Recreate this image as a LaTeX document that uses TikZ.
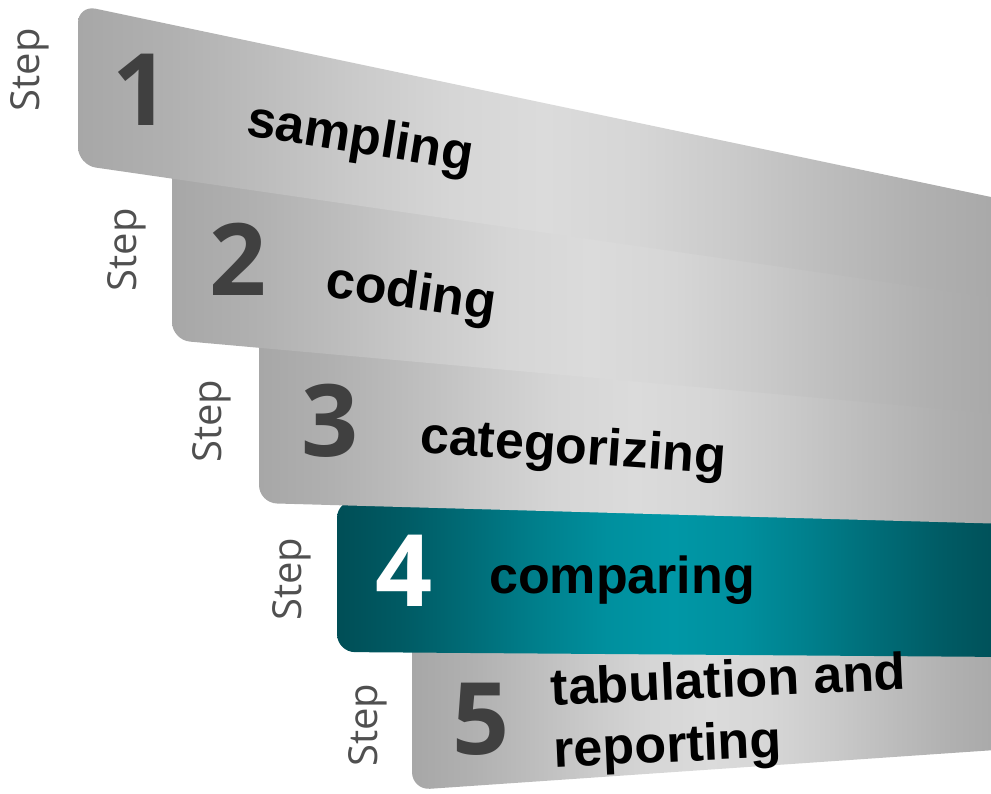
\documentclass[tikz,border=0pt]{standalone}
\usepackage{fontspec}
\setmainfont{Liberation Sans}
\newfontfamily\stepfont{Open Sans}
\definecolor{panelgray}{HTML}{A7A7A7}
\definecolor{panellight}{HTML}{DBDBDB}
\definecolor{tealdark}{HTML}{004E56}
\definecolor{teallight}{HTML}{0097A6}
\definecolor{numgray}{HTML}{404040}
\definecolor{stepgray}{HTML}{505050}
% soft light band across a panel: #1 name, #2 edge colour, #3 centre colour
\newcommand\declareband[3]{%
 \pgfdeclarehorizontalshading{#1}{100bp}{color(0bp)=(#2); color(25bp)=(#2); color(30bp)=(#3!18!#2);
  color(35bp)=(#3!42!#2); color(40bp)=(#3!68!#2); color(45bp)=(#3!90!#2); color(50bp)=(#3);
  color(55bp)=(#3!90!#2); color(60bp)=(#3!68!#2); color(65bp)=(#3!42!#2); color(70bp)=(#3!18!#2);
  color(75bp)=(#2); color(100bp)=(#2)}}
\declareband{grayband}{panelgray}{panellight}
\declareband{tealband}{tealdark}{teallight}
\tikzset{
 steptag/.style={rotate=90,text=stepgray,font=\stepfont\fontsize{40}{40}\selectfont,inner sep=0},
 stepnum/.style={font=\stepfont\bfseries\fontsize{100}{100}\selectfont,inner sep=0},
 steplabel/.style={font=\bfseries\fontsize{52}{62}\selectfont,inner sep=0,align=left}
}
\begin{document}
\begin{tikzpicture}[x=1pt,y=-1pt]
 \useasboundingbox (0,0) rectangle (991,793);
 \clip (0,0) rectangle (991,793);
 % slanted panels, lowest one first
 \foreach \xl/\yt/\yb/\rt/\rb/\sh in {412/630/790/640/749/grayband,337/500/652/520/657/tealband,
   259/320/503/380/524/grayband,172/150/340/260/415/grayband,78/5/165/201/300/grayband}
  \shade[shading=\sh,rounded corners=18] (\xl,\yt) -- (1010,\rt) -- (1010,\rb) -- (\xl,\yb) -- cycle;
 \foreach \i/\x/\y in {1/30/70,2/127/250,3/212/421,4/292/579,5/368/725}
  \node[steptag] (tag\i) at (\x,\y) {Step};
 \foreach \i/\x/\y/\c in {1/141/90/numgray,2/238/259/numgray,3/330/421/numgray,4/404/571/white,5/481/719/numgray}
  \node[stepnum,text=\c] (num\i) at (\x,\y) {\i};
 \node[steplabel,rotate=-9] (lbl1) at (360,140) {sampling};
 \node[steplabel,rotate=-8] (lbl2) at (411,295) {coding};
 \node[steplabel,rotate=-4] (lbl3) at (573,450) {categorizing};
 \node[steplabel] (lbl4) at (622,580) {comparing};
 \node[steplabel,rotate=2.5] (lbl5) at (730,715) {tabulation and\\reporting};
\end{tikzpicture}
\end{document}
